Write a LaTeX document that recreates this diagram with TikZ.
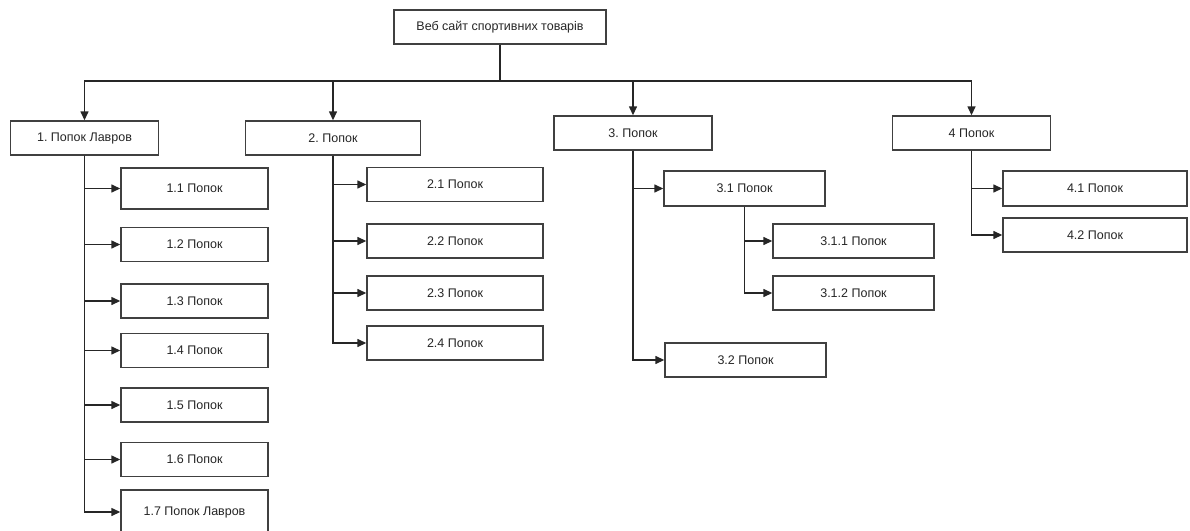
\documentclass[tikz,border=0pt]{standalone}
\usepackage{fontspec}
\setmainfont{Liberation Sans}
\frenchspacing
\usetikzlibrary{arrows.meta}
\begin{document}
\begin{tikzpicture}[x=1pt,y=-1pt,
  box/.style={draw=black!75,line width=1.4pt,fill=white,inner sep=0pt,
    font=\fontsize{12.5}{14}\selectfont,text=black!85},
  link/.style={draw=black!85,line width=1.4pt,
    -{Triangle[length=9pt,width=8pt]}},
  bar/.style={draw=black!85,line width=1.6pt}]
\useasboundingbox (0,0) rectangle (1190,530);
\begin{scope}
\clip (0,0) rectangle (1190,530);
% root
\node[box,minimum width=212pt,minimum height=34pt] (root) at (500,27) {Веб сайт спортивних товарів};
% first level
\node[box,minimum width=148pt,minimum height=34pt] (n1) at (84.5,138) {1. Попок Лавров};
\node[box,minimum width=175pt,minimum height=34pt] (n2) at (333,138) {2. Попок};
\node[box,minimum width=158pt,minimum height=34pt] (n3) at (633,133) {3. Попок};
\node[box,minimum width=158pt,minimum height=34pt] (n4) at (971.5,133) {4 Попок};
% branch 1
\node[box,minimum width=147pt,minimum height=41pt] (n11) at (194.5,188.5) {1.1 Попок};
\node[box,minimum width=147pt,minimum height=34pt] (n12) at (194.5,244.5) {1.2 Попок};
\node[box,minimum width=147pt,minimum height=34pt] (n13) at (194.5,301) {1.3 Попок};
\node[box,minimum width=147pt,minimum height=34pt] (n14) at (194.5,350.5) {1.4 Попок};
\node[box,minimum width=147pt,minimum height=34pt] (n15) at (194.5,405) {1.5 Попок};
\node[box,minimum width=147pt,minimum height=34pt] (n16) at (194.5,459.5) {1.6 Попок};
\node[box,minimum width=147pt,minimum height=44pt] (n17) at (194.5,512) {1.7 Попок Лавров};
% branch 2
\node[box,minimum width=176pt,minimum height=34pt] (n21) at (455,184.5) {2.1 Попок};
\node[box,minimum width=176pt,minimum height=34pt] (n22) at (455,241) {2.2 Попок};
\node[box,minimum width=176pt,minimum height=34pt] (n23) at (455,293) {2.3 Попок};
\node[box,minimum width=176pt,minimum height=34pt] (n24) at (455,343) {2.4 Попок};
% branch 3
\node[box,minimum width=161pt,minimum height=35pt] (n31) at (744.5,188.5) {3.1 Попок};
\node[box,minimum width=161pt,minimum height=34pt] (n311) at (853.5,241) {3.1.1 Попок};
\node[box,minimum width=161pt,minimum height=34pt] (n312) at (853.5,293) {3.1.2 Попок};
\node[box,minimum width=161pt,minimum height=34pt] (n32) at (745.5,360) {3.2 Попок};
% branch 4
\node[box,minimum width=184pt,minimum height=35pt] (n41) at (1095,188.5) {4.1 Попок};
\node[box,minimum width=184pt,minimum height=34pt] (n42) at (1095,235) {4.2 Попок};
\end{scope}
% connectors from the root to the first level
\coordinate (bus) at (500,81);
\draw[bar] (root.south) -- (bus);
\draw[link] (bus) -| (n1.north);
\draw[link] (bus) -| (n2.north);
\draw[link] (bus) -| (n3.north);
\draw[link] (bus) -| (n4.north);
% branch connectors
\foreach \c in {n11,n12,n13,n14,n15,n16,n17}
  \draw[link] (n1.south) |- (\c.west);
\foreach \c in {n21,n22,n23,n24}
  \draw[link] (n2.south) |- (\c.west);
\foreach \c in {n31,n32}
  \draw[link] (n3.south) |- (\c.west);
\foreach \c in {n311,n312}
  \draw[link] (n31.south) |- (\c.west);
\foreach \c in {n41,n42}
  \draw[link] (n4.south) |- (\c.west);
\end{tikzpicture}
\end{document}
